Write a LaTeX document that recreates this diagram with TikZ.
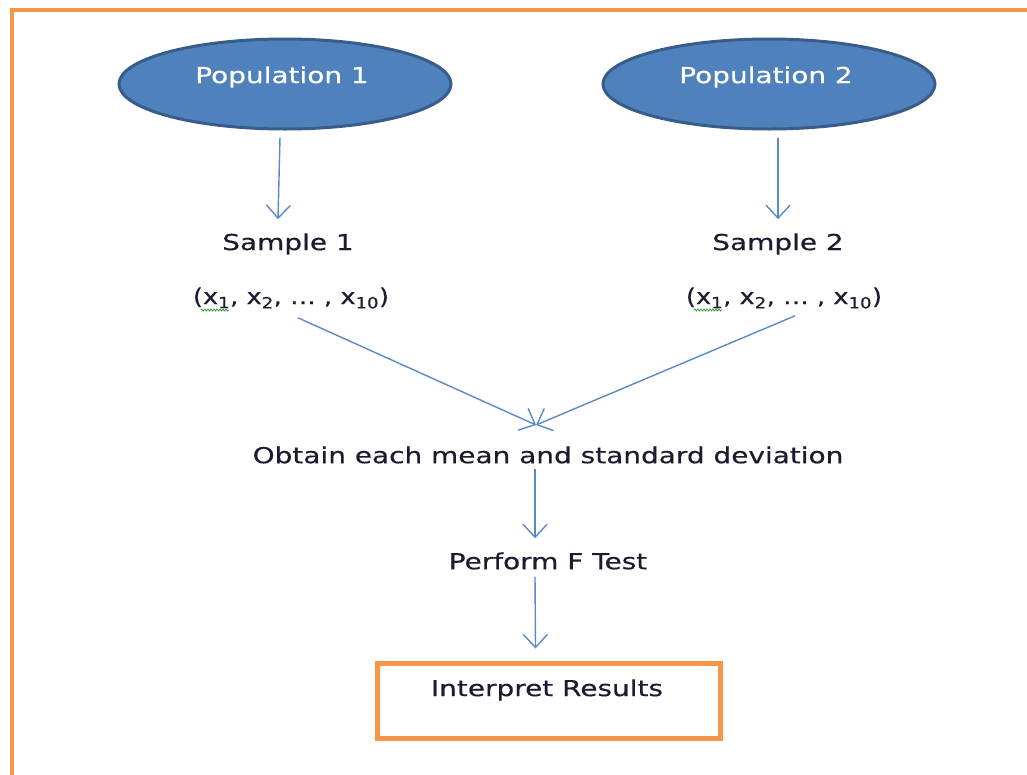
\documentclass[tikz,border=0pt]{standalone}
\usepackage{fontspec}
\setmainfont{DejaVu Sans}[FakeStretch=1.27,FakeBold=0.4]
\newfontfamily\datafont{DejaVu Sans}[FakeStretch=1.17,FakeBold=0.4]
\usetikzlibrary{arrows.meta,shapes.geometric,calc,decorations.pathmorphing}
\definecolor{frameorange}{HTML}{F79646}
\definecolor{popfill}{HTML}{4F81BD}
\definecolor{popedge}{HTML}{385D8A}
\definecolor{arrowblue}{HTML}{5A8AC6}
\definecolor{inkdark}{HTML}{1C1C30}
\definecolor{spellgreen}{HTML}{3A9A3A}
\tikzset{
  pop/.style={ellipse, fill=popfill, draw=popedge, line width=3pt,
    minimum width=332pt, minimum height=90pt, inner sep=0pt},
  poplabel/.style={text=white, font=\fontsize{22}{26}\selectfont, inner sep=0pt},
  label/.style={text=inkdark, font=\fontsize{22}{26}\selectfont, inner sep=0pt},
  datalabel/.style={text=inkdark, font=\datafont\fontsize{22}{26}\selectfont, inner sep=0pt},
  flow/.style={draw=arrowblue, line width=1.4pt,
    -{Straight Barb[length=13pt,width=24pt,line width=1.4pt]}},
  resultbox/.style={draw=frameorange, line width=5pt, minimum width=343pt,
    minimum height=75pt, inner sep=0pt},
}
\begin{document}
\begin{tikzpicture}[x=1pt,y=-1pt]
  \useasboundingbox (0,0) rectangle (1027,774);
  % outer frame
  \draw[frameorange, line width=4pt] (12,10) rectangle (1040,777);

  % populations
  \node[pop] (pop1) at (285,84) {};
  \node[poplabel] (pl1) at (282,77) {Population 1};
  \node[pop] (pop2) at (769,84) {};
  \node[poplabel] (pl2) at (766,77) {Population 2};

  % samples
  \node[label] (s1) at (288,244) {Sample 1};
  \node[label] (s2) at (778,244) {Sample 2};
  \node[datalabel] (d1) at (291,298) {(x\textsubscript{1}, x\textsubscript{2}, … , x\textsubscript{10})};
  \node[datalabel] (d2) at (784,298) {(x\textsubscript{1}, x\textsubscript{2}, … , x\textsubscript{10})};

  % spelling marks under the first x of each sample
  \draw[spellgreen, line width=0.8pt, decorate,
    decoration={snake, amplitude=1pt, segment length=3pt}] (201,310) -- (229,310);
  \draw[spellgreen, line width=0.8pt, decorate,
    decoration={snake, amplitude=1pt, segment length=3pt}] (694,310) -- (722,310);

  % steps
  \node[label] (ob) at (548,455) {Obtain each mean and standard deviation};
  \node[label] (ft) at (548,561) {Perform F Test};
  \node[resultbox] (rb) at (548.5,700.5) {};
  \node[label] (ir) at (547,690) {Interpret Results};

  \coordinate (meet) at (536,425);

  % connectors
  \draw[flow] ([xshift=-5pt,yshift=-7pt]pop1.south) -- ([xshift=-10pt,yshift=14pt]s1.north);
  \draw[flow] ([yshift=-7pt,xshift=9pt]pop2.south) -- ([yshift=14pt]s2.north);
  \draw[flow] ([xshift=7pt,yshift=-9pt]d1.south) -- (meet);
  \draw[flow] ([xshift=11pt,yshift=-7pt]d2.south) -- (meet);
  \draw[flow] ([xshift=-13pt,yshift=-5pt]ob.south) -- ([xshift=-13pt,yshift=14pt]ft.north);
  \draw[flow] ([xshift=-13pt,yshift=-7pt]ft.south) -- ([xshift=-13pt,yshift=12pt]rb.north);
\end{tikzpicture}
\end{document}
